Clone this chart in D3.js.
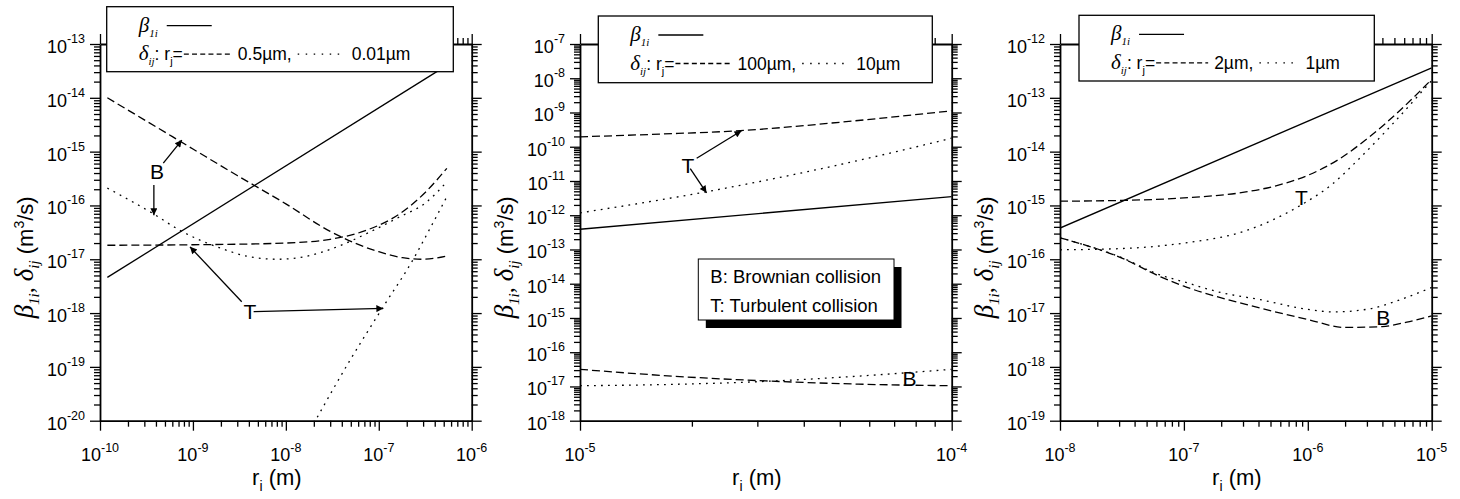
<!DOCTYPE html>
<html>
<head>
<meta charset="utf-8">
<script src="https://cdn.jsdelivr.net/npm/d3@7"></script>
<style>
  body { margin: 0; background: #fff; }
  svg text { font-family: "Liberation Sans", Arial, sans-serif; fill: #000; white-space: pre; }
</style>
</head>
<body>
<script>
// ---- data: [r_i (m), rate (m^3/s)] ----
// panel 1 : r_j = 0.5um (dashed), 0.01um (dotted)
const a_beta   = [[1.2e-10, 4.6e-18], [5.4e-7, 4.0e-14]];
const a_dashB  = [[1.2e-10, 1.0e-14], [3e-10, 3.9e-15], [1e-9, 1.12e-15], [3e-9, 3.6e-16], [1e-8, 1.07e-16],
                  [3e-8, 3.3e-17], [1e-7, 1.38e-17], [1.8e-7, 1.07e-17], [3e-7, 1.0e-17], [5.4e-7, 1.15e-17]];
const a_dashT  = [[1.2e-10, 1.82e-17], [1e-9, 1.86e-17], [1e-8, 2.0e-17], [3e-8, 2.35e-17], [7.4e-8, 3.47e-17],
                  [1.7e-7, 7.1e-17], [3.2e-7, 1.78e-16], [5.4e-7, 4.9e-16]];
const a_dotB   = [[1.2e-10, 2.1e-16], [3.7e-10, 7.1e-17], [7.2e-10, 3.47e-17], [2e-9, 1.6e-17], [4e-9, 1.12e-17],
                  [8e-9, 1.0e-17], [1.6e-8, 1.12e-17], [3.8e-8, 1.78e-17], [7.4e-8, 3.0e-17], [1.7e-7, 6.2e-17],
                  [3.2e-7, 1.12e-16], [5.4e-7, 2.75e-16]];
const a_dotT   = [[2e-8, 8.9e-21], [5e-8, 1.41e-19], [1.12e-7, 1.32e-18], [2.35e-7, 1.0e-17], [3.55e-7, 3.7e-17],
                  [5.4e-7, 1.45e-16]];

// panel 2 : r_j = 100um (dashed), 10um (dotted)
const b_beta   = [[1e-5, 3.9e-13], [1e-4, 3.5e-12]];
const b_dashT  = [[1e-5, 1.95e-10], [1.64e-5, 2.34e-10], [2.7e-5, 2.95e-10], [5.2e-5, 5.4e-10], [1e-4, 1.12e-9]];
const b_dotT   = [[1e-5, 1.17e-12], [2.2e-5, 4.9e-12], [4.3e-5, 2.1e-11], [6.5e-5, 5.75e-11], [1e-4, 1.78e-10]];
const b_dashB  = [[1e-5, 3.16e-17], [1.78e-5, 2.0e-17], [3.16e-5, 1.45e-17], [5.6e-5, 1.17e-17], [1e-4, 1.05e-17]];
const b_dotB   = [[1e-5, 1.05e-17], [1.78e-5, 1.15e-17], [3.16e-5, 1.41e-17], [5.6e-5, 2.0e-17], [1e-4, 3.16e-17]];

// panel 3 : r_j = 2um (dashed), 1um (dotted)
const c_beta   = [[1e-8, 3.8e-16], [1e-5, 3.6e-13]];
const c_dashT  = [[1e-8, 1.2e-15], [3.16e-8, 1.24e-15], [1e-7, 1.38e-15], [3.16e-7, 1.78e-15], [5.62e-7, 2.34e-15],
                  [1e-6, 3.63e-15], [1.78e-6, 7.2e-15], [3.16e-6, 1.9e-14], [5.62e-6, 6.0e-14], [1e-5, 2.2e-13]];
const c_dotT   = [[1e-8, 1.5e-16], [3.16e-8, 1.58e-16], [1e-7, 2.0e-16], [3.16e-7, 3.39e-16], [8.7e-7, 1.0e-15],
                  [1.58e-6, 2.5e-15], [2.63e-6, 7.6e-15], [5e-6, 3.55e-14], [1e-5, 2.1e-13]];
const c_dashB  = [[1e-8, 2.5e-16], [3.16e-8, 1.05e-16], [6.5e-8, 4.7e-17], [1e-7, 3.16e-17], [3.16e-7, 1.45e-17],
                  [1e-6, 7.6e-18], [2e-6, 5.4e-18], [4e-6, 5.6e-18], [6.3e-6, 6.8e-18], [1e-5, 8.9e-18]];
const c_dotB   = [[1e-8, 2.5e-16], [3.16e-8, 1.07e-16], [6.3e-8, 5.2e-17], [1e-7, 3.8e-17], [2e-7, 2.4e-17],
                  [4.1e-7, 1.78e-17], [1e-6, 1.17e-17], [1.6e-6, 1.05e-17], [3.16e-6, 1.2e-17], [5.6e-6, 1.78e-17],
                  [1e-5, 3.0e-17]];

// legend sizes and annotation anchors (data units)
const legendSizes = [["0.5\u00b5m,", "0.01\u00b5m"], ["100\u00b5m,", "10\u00b5m"], ["2\u00b5m,", "1\u00b5m"]];
const a_labels = [["B", 4.1e-10, 4.2e-16], ["T", 4.1e-9, 1.06e-18]];
const a_arrows = [[[4.8e-10, 6.1e-16], [7.6e-10, 1.64e-15]], [[3.8e-10, 2.4e-16], [3.8e-10, 6.6e-17]],
                  [[3.35e-9, 1.62e-18], [9.3e-10, 1.7e-17]], [[4.5e-9, 1.06e-18], [1.12e-7, 1.22e-18]]];
const b_labels = [["T", 1.95e-5, 2.9e-11], ["B", 7.7e-5, 1.72e-17]];
const b_arrows = [[[2.06e-5, 4.6e-11], [2.72e-5, 2.94e-10]], [[1.98e-5, 2.3e-11], [2.19e-5, 4.5e-12]]];
const c_labels = [["T", 8.9e-7, 1.43e-15], ["B", 4.06e-6, 8.4e-18]];
const c_arrows = [];

const W = 1460, H = 499;
const plotTop = 44, pw = 371.7, ph = 376.7;
const SERIF = "'Liberation Serif','Times New Roman',serif";

const panels = [
  { left: 100,  xExp: [-10, -6], yExp: [-20, -13], lines: [a_beta, a_dashB, a_dashT, a_dotB, a_dotT],
    styles: ["solid", "dash", "dash", "dot", "dot"], labels: a_labels, arrows: a_arrows,
    legend: { x: 6.7, y: -37.3, w: 346.6, h: 65, dash: 48, dot: 48 }, sizes: legendSizes[0] },
  { left: 580,  xExp: [-5, -4],  yExp: [-18, -7],  lines: [b_beta, b_dashT, b_dotT, b_dashB, b_dotB],
    styles: ["solid", "dash", "dot", "dash", "dot"], labels: b_labels, arrows: b_arrows,
    legend: { x: 18.3, y: -28, w: 334, h: 66.7, dash: 56, dot: 48 }, sizes: legendSizes[1], infoBox: true },
  { left: 1060, xExp: [-8, -5],  yExp: [-19, -12], lines: [c_beta, c_dashT, c_dotT, c_dashB, c_dotB],
    styles: ["solid", "dash", "dot", "dash", "dot"], labels: c_labels, arrows: c_arrows,
    legend: { x: 19, y: -28.7, w: 295.3, h: 65.7, dash: 52, dot: 40 }, sizes: legendSizes[2] }
];

const dashes = { solid: null, dash: "8,4", dot: "1.8,5.2" };

const svg = d3.select("body").append("svg").attr("width", W).attr("height", H);

svg.append("defs").append("marker")
  .attr("id", "arrow").attr("viewBox", "0 0 10 10").attr("refX", 10).attr("refY", 5)
  .attr("markerWidth", 11).attr("markerHeight", 7).attr("markerUnits", "userSpaceOnUse")
  .attr("orient", "auto")
  .append("path").attr("d", "M0,0L10,5L0,10z").attr("fill", "#000");

function rich(sel, parts) {
  let shift = 0;
  parts.forEach(p => {
    const s = p.shift || 0;
    sel.append("tspan")
      .attr("dy", s - shift)
      .attr("font-size", p.size)
      .attr("font-style", p.it ? "italic" : null)
      .attr("font-family", p.serif ? SERIF : null)
      .text(p.t);
    shift = s;
  });
}

function logTicks(lo, hi) {
  const t = [];
  for (let e = lo; e < hi; e++) for (let k = 1; k < 10; k++) t.push(+(k + "e" + e));
  t.push(+("1e" + hi));
  return t;
}
const isMajor = d => Math.abs(Math.log10(d) - Math.round(Math.log10(d))) < 1e-6;
const expOf = d => String(Math.round(Math.log10(d)));

panels.forEach((p, i) => {
  const g = svg.append("g").attr("transform", `translate(${p.left},${plotTop})`);
  const x = d3.scaleLog().domain([+("1e" + p.xExp[0]), +("1e" + p.xExp[1])]).range([0, pw]);
  const y = d3.scaleLog().domain([+("1e" + p.yExp[0]), +("1e" + p.yExp[1])]).range([ph, 0]);
  const xt = logTicks(p.xExp[0], p.xExp[1]);
  const yt = logTicks(p.yExp[0], p.yExp[1]);

  // clip + curves
  g.append("clipPath").attr("id", "clip" + i)
    .append("rect").attr("width", pw).attr("height", ph);
  const line = d3.line().x(d => x(d[0])).y(d => y(d[1])).curve(d3.curveMonotoneX);
  g.append("g").attr("clip-path", `url(#clip${i})`)
    .selectAll("path").data(p.lines).join("path")
    .attr("d", line)
    .attr("fill", "none").attr("stroke", "#000").attr("stroke-width", 1.3)
    .attr("stroke-dasharray", (d, j) => dashes[p.styles[j]]);

  // axes (box with outward ticks)
  const axes = [
    { gen: d3.axisBottom(x).tickValues(xt), tr: `translate(0,${ph})`, attr: "y2", sign: 1 },
    { gen: d3.axisTop(x).tickValues(xt), tr: null, attr: "y2", sign: -1 },
    { gen: d3.axisLeft(y).tickValues(yt), tr: null, attr: "x2", sign: -1 },
    { gen: d3.axisRight(y).tickValues(yt), tr: `translate(${pw},0)`, attr: "x2", sign: 1 }
  ];
  axes.forEach(a => {
    const ag = g.append("g").attr("transform", a.tr)
      .call(a.gen.tickFormat("").tickSizeOuter(0));
    ag.select(".domain").attr("stroke-width", 1.8);
    ag.selectAll(".tick line").attr(a.attr, d => a.sign * (isMajor(d) ? 10 : 6)).attr("stroke-width", 1.3);
    ag.selectAll(".tick text").remove();
  });

  // tick labels
  xt.filter(isMajor).forEach(d => {
    const t = g.append("text").attr("x", x(d)).attr("y", ph + 40).attr("text-anchor", "middle");
    rich(t, [{ t: "10", size: 18 }, { t: expOf(d), size: 12.5, shift: -9 }]);
  });
  yt.filter(isMajor).forEach(d => {
    const t = g.append("text").attr("x", -15).attr("y", y(d) + 9).attr("text-anchor", "end");
    rich(t, [{ t: "10", size: 18 }, { t: expOf(d), size: 12.5, shift: -10 }]);
  });

  // axis titles
  const xl = g.append("text").attr("x", pw / 2 - 9).attr("y", ph + 64).attr("text-anchor", "middle");
  rich(xl, [{ t: "r", size: 22 }, { t: "i", size: 14, shift: 6 }, { t: " (m)", size: 22 }]);
  const yl = g.append("text").attr("text-anchor", "middle")
    .attr("transform", `translate(-67,${ph / 2 + 25}) rotate(-90)`);
  rich(yl, [{ t: "\u03b2", size: 27, it: true, serif: true }, { t: "1i", size: 15, it: true, serif: true, shift: 6 },
            { t: ", ", size: 24, serif: true }, { t: "\u03b4", size: 27, it: true, serif: true },
            { t: "ij", size: 15, it: true, serif: true, shift: 6 }, { t: " (m", size: 22 },
            { t: "3", size: 14, shift: -9 }, { t: "/s)", size: 22 }]);

  // annotations
  p.arrows.forEach(a => {
    g.append("line")
      .attr("x1", x(a[0][0])).attr("y1", y(a[0][1])).attr("x2", x(a[1][0])).attr("y2", y(a[1][1]))
      .attr("stroke", "#000").attr("stroke-width", 1.3).attr("marker-end", "url(#arrow)");
  });
  p.labels.forEach(l => {
    g.append("text").attr("x", x(l[1])).attr("y", y(l[2]) + 7.5)
      .attr("text-anchor", "middle").attr("font-size", 21).text(l[0]);
  });

  // info box (middle panel)
  if (p.infoBox) {
    const bx = 118.3, by = 215, bw = 195.7, bh = 61;
    g.append("rect").attr("x", bx + 7.5).attr("y", by + 8).attr("width", bw).attr("height", bh).attr("fill", "#000");
    g.append("rect").attr("x", bx).attr("y", by).attr("width", bw).attr("height", bh)
      .attr("fill", "#fff").attr("stroke", "#000").attr("stroke-width", 1);
    g.append("text").attr("x", bx + 12).attr("y", by + 24.3).attr("font-size", 18.5).text("B: Brownian collision");
    g.append("text").attr("x", bx + 12).attr("y", by + 52.5).attr("font-size", 18.5).text("T: Turbulent collision");
  }

  // legend
  const L = p.legend;
  const lg = g.append("g").attr("transform", `translate(${L.x},${L.y})`);
  lg.append("rect").attr("width", L.w).attr("height", L.h)
    .attr("fill", "#fff").attr("stroke", "#000").attr("stroke-width", 1.3);
  const r1 = lg.append("text").attr("x", 32).attr("y", 25);
  rich(r1, [{ t: "\u03b2", size: 21, it: true, serif: true }, { t: "1i", size: 11, it: true, serif: true, shift: 5 }]);
  let cx = 32 + r1.node().getComputedTextLength() + 9;
  lg.append("line").attr("x1", cx).attr("x2", cx + 45).attr("y1", 19).attr("y2", 19)
    .attr("stroke", "#000").attr("stroke-width", 1.3);

  const r2 = lg.append("text").attr("x", 32).attr("y", 53.5);
  rich(r2, [{ t: "\u03b4", size: 21, it: true, serif: true }, { t: "ij", size: 11, it: true, serif: true, shift: 5 },
            { t: ": r", size: 17.5 }, { t: "j", size: 11, shift: 5 }, { t: "=", size: 17.5 }]);
  cx = 32 + r2.node().getComputedTextLength() + 1;
  const sy = 47.5;
  lg.append("line").attr("x1", cx).attr("x2", cx + L.dash).attr("y1", sy).attr("y2", sy)
    .attr("stroke", "#000").attr("stroke-width", 1.3).attr("stroke-dasharray", "5,3.2");
  cx += L.dash + 6;
  const t1 = lg.append("text").attr("x", cx).attr("y", 53.5).attr("font-size", 17.5).text(p.sizes[0]);
  cx += t1.node().getComputedTextLength() + 6;
  lg.append("line").attr("x1", cx).attr("x2", cx + L.dot).attr("y1", sy).attr("y2", sy)
    .attr("stroke", "#000").attr("stroke-width", 1.3).attr("stroke-dasharray", "1.5,6.5");
  cx += L.dot + 6;
  lg.append("text").attr("x", cx).attr("y", 53.5).attr("font-size", 17.5).text(p.sizes[1]);
});
</script>
</body>
</html>
